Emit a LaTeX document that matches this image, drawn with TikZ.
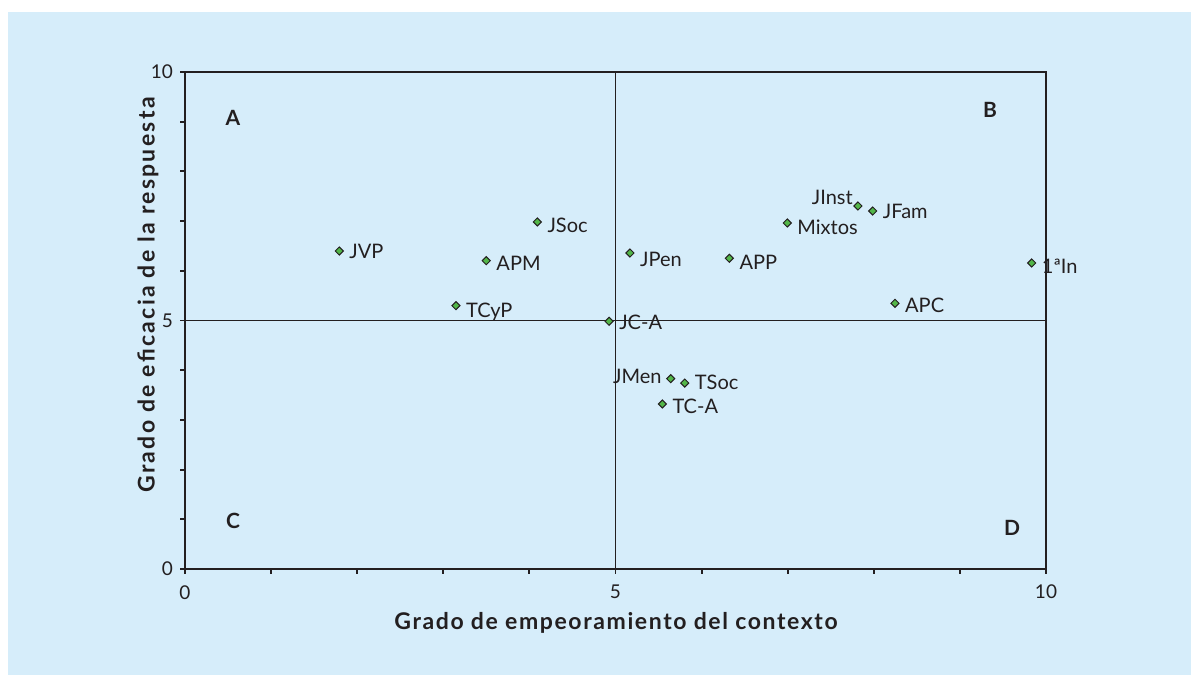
\documentclass[tikz,border=0pt]{standalone}
\usepackage{fontspec}
\setmainfont{Lato}
\usetikzlibrary{shapes.geometric}
\definecolor{panel}{RGB}{214,237,250}
\definecolor{mk}{RGB}{82,182,72}
\definecolor{ink}{RGB}{35,31,32}
\tikzset{
  dot/.style={diamond, draw=ink, line width=1pt, fill=mk, inner sep=0pt, minimum width=8.5pt, minimum height=8.5pt},
  lbl/.style={inner sep=0pt, text=ink, font=\fontsize{20}{24}\selectfont},
  ticklbl/.style={inner sep=0pt, text=ink, font=\fontsize{19}{23}\selectfont},
  quad/.style={inner sep=0pt, text=ink, font=\fontsize{21}{25}\selectfont\bfseries},
  axtitle/.style={inner sep=0pt, text=ink, font=\fontsize{23}{27}\selectfont\bfseries\addfontfeatures{LetterSpace=7}},
  aytitle/.style={inner sep=0pt, text=ink, font=\fontsize{23}{27}\selectfont\bfseries\addfontfeatures{LetterSpace=10}},
  axline/.style={draw=ink, line width=1.9pt},
  midline/.style={draw=ink, line width=1.5pt},
}
\begin{document}
\begin{tikzpicture}[x=1pt,y=1pt]
\useasboundingbox (0,0) rectangle (1191,675);
\fill[white] (0,0) rectangle (1191,675);
\fill[panel] (8,0) rectangle (1191,663);
\begin{scope}[shift={(185pt,106pt)}, x=86.1pt, y=49.7pt]
  % frame and quadrant lines
  \draw[midline] (0,10) -- (10,10) -- (10,0);
  \draw[midline] (0,5) -- (10,5);
  \draw[midline] (5,0) -- (5,10);
  \draw[axline] (0,10) -- (0,0) -- (10,0);
  \foreach \i in {0,...,10} {
    \draw[axline] (\i,0) -- ++(0,-5pt);
    \draw[axline] (0,\i) -- ++(-5pt,0);
  }
  % tick labels
  \node[ticklbl, anchor=east] (y10) at ([xshift=-12pt]0,10) {10};
  \node[ticklbl, anchor=east] (y5) at ([xshift=-12pt]0,5) {5};
  \node[ticklbl, anchor=east] (y0) at ([xshift=-12pt]0,0) {0};
  \node[ticklbl] (x0) at ([yshift=-24pt]0,0) {0};
  \node[ticklbl] (x5) at ([yshift=-23pt]5,0) {5};
  \node[ticklbl] (x10) at ([yshift=-23pt]10,0) {10};
  % data points
  \foreach \px/\py/\t/\n/\by in {
    1.792/6.398/JVP/jvp/7,
    4.092/6.982/JSoc/jsoc/11,
    3.499/6.203/APM/apm/9.3,
    3.147/5.298/TCyP/tcyp/11.5,
    4.925/4.984/JC-A/jca/8.7,
    5.168/6.358/JPen/jpen/13,
    6.322/6.252/APP/app/11.7,
    6.995/6.962/Mixtos/mixtos/11.2,
    7.987/7.203/JFam/jfam/7,
    8.246/5.346/APC/apc/8.9,
    5.804/3.742/TSoc/tsoc/6.5,
    5.544/3.320/TC-A/tca/10,
    9.834/6.157/1ªIn/first/11
  } {
    \node[dot] (\n) at (\px,\py) {};
    \node[lbl, anchor=base west] (\n-l) at ([xshift=10pt,yshift=-\by pt]\n.center) {\t};
  }
  \node[dot] (jinst) at (7.816,7.304) {};
  \node[lbl, anchor=base east] (jinst-l) at ([xshift=-5pt,yshift=1pt]jinst.center) {JInst};
  \node[dot] (jmen) at (5.641,3.829) {};
  \node[lbl, anchor=base east] (jmen-l) at ([xshift=-9pt,yshift=-4.5pt]jmen.center) {JMen};
\end{scope}
% quadrant letters
\node[quad] (qa) at (233,557) {A};
\node[quad] (qb) at (990,565) {B};
\node[quad] (qc) at (233,154) {C};
\node[quad] (qd) at (1012,147) {D};
% axis titles
\node[axtitle] (xt) at (616,52) {Grado de empeoramiento del contexto};
\node[aytitle, rotate=90] (yt) at (148,380) {Grado de eficacia de la respuesta};
\end{tikzpicture}
\end{document}
